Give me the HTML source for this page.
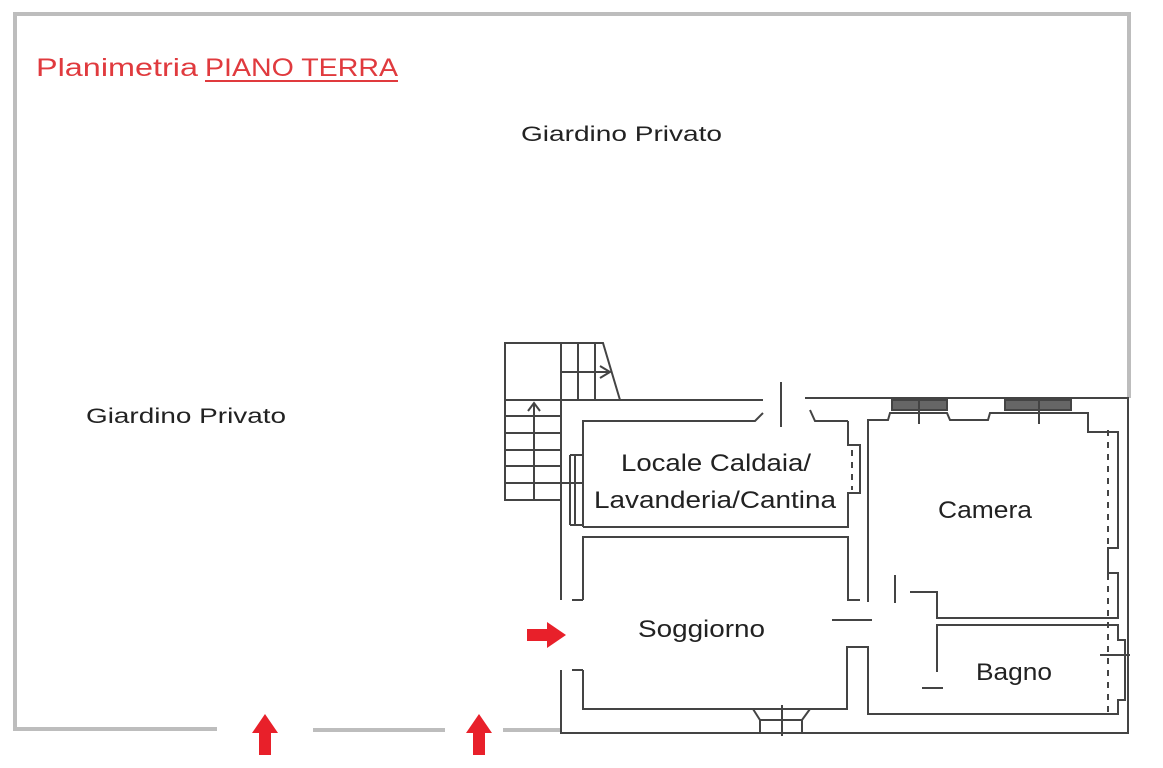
<!DOCTYPE html>
<html><head><meta charset="utf-8"><style>
html,body{margin:0;padding:0;background:#fff;}
svg{display:block;}
text{font-family:"Liberation Sans",sans-serif;}
</style></head><body>
<svg width="1163" height="768" viewBox="0 0 1163 768" xmlns="http://www.w3.org/2000/svg">
<g stroke="#bdbdbd" stroke-width="4" fill="none">
<polyline points="1129,398 1129,14 15,14 15,729 217,729"/>
<line x1="313" y1="730" x2="445" y2="730"/>
<line x1="503" y1="730" x2="560" y2="730"/>
</g>
<text x="36" y="76" font-size="25" fill="#e03a3e" textLength="162" lengthAdjust="spacingAndGlyphs">Planimetria</text>
<text x="205" y="76" font-size="25" fill="#e03a3e" textLength="193" lengthAdjust="spacingAndGlyphs">PIANO TERRA</text>
<line x1="205" y1="81" x2="398" y2="81" stroke="#e03a3e" stroke-width="2"/>
<text x="521" y="141" font-size="21" fill="#222" textLength="201" lengthAdjust="spacingAndGlyphs">Giardino Privato</text>
<text x="86" y="423" font-size="21" fill="#222" textLength="200" lengthAdjust="spacingAndGlyphs">Giardino Privato</text>

<g stroke="#444" stroke-width="2" fill="none">
<rect x="505" y="343" width="56" height="157"/>
<polyline points="561,343 603,343 620,400"/>
<line x1="578" y1="343" x2="578" y2="400"/>
<line x1="595" y1="343" x2="595" y2="400"/>
<line x1="561" y1="372" x2="610" y2="372"/>
<polyline points="600,366 610,372 600,378"/>
<line x1="505" y1="400" x2="561" y2="400"/>
<line x1="505" y1="416" x2="561" y2="416"/>
<line x1="505" y1="433" x2="561" y2="433"/>
<line x1="505" y1="450" x2="561" y2="450"/>
<line x1="505" y1="466" x2="561" y2="466"/>
<line x1="505" y1="483" x2="583" y2="483"/>
<line x1="534" y1="403" x2="534" y2="500"/>
<polyline points="528,411 534,403 540,411"/>
<polyline points="763,400 561,400 561,600"/>
<polyline points="561,670 561,733 1128,733 1128,398 805,398"/>
<polyline points="583,527 583,421 755,421 763,413"/>
<polyline points="810,410 815,421 848,421"/>
<polyline points="583,527 848,527 848,493 860,493 860,445 848,445 848,421"/>
<line x1="570" y1="455" x2="583" y2="455"/><line x1="570" y1="525" x2="583" y2="525"/>
<line x1="570" y1="455" x2="570" y2="525"/><line x1="575" y1="455" x2="575" y2="525"/>
<line x1="561" y1="483" x2="583" y2="483"/>
<polyline points="583,600 583,537 848,537 848,600 860,600"/>
<polyline points="583,670 583,709 847,709 847,647 868,647 868,714 1110,714"/>
<line x1="572" y1="600" x2="583" y2="600"/><line x1="572" y1="670" x2="583" y2="670"/>
<polyline points="868,602 868,420 888,420 890,413 947,413 950,420 988,420 990,413 1072,413 1088,413 1088,432 1118,432 1118,548 1108,548 1108,573 1118,573 1118,618 937,618 937,592 910,592"/>
<polyline points="937,672 937,625 1118,625 1118,640 1125,640 1125,700 1118,700 1118,714 1110,714"/>
<rect x="892" y="400" width="55" height="10" fill="#666"/>
<rect x="1005" y="400" width="66" height="10" fill="#666"/>
<line x1="919" y1="398" x2="919" y2="424"/>
<line x1="1039" y1="398" x2="1039" y2="424"/>
<polyline points="753,709 760,720 802,720 810,709"/>
<line x1="760" y1="733" x2="760" y2="720"/><line x1="802" y1="733" x2="802" y2="720"/>
<line x1="782" y1="705" x2="782" y2="736"/>
<line x1="1108" y1="430" x2="1108" y2="718" stroke-dasharray="6,6"/>
<line x1="852" y1="450" x2="852" y2="490" stroke-dasharray="6,6"/>
<line x1="1100" y1="655" x2="1130" y2="655"/>
<line x1="781" y1="382" x2="781" y2="427"/>
<line x1="895" y1="575" x2="895" y2="603"/>
<line x1="832" y1="620" x2="872" y2="620"/>
<line x1="922" y1="688" x2="943" y2="688"/>
</g>
<text x="621" y="471" font-size="24" fill="#222" textLength="190" lengthAdjust="spacingAndGlyphs">Locale Caldaia/</text>
<text x="594" y="508" font-size="24" fill="#222" textLength="242" lengthAdjust="spacingAndGlyphs">Lavanderia/Cantina</text>
<text x="938" y="518" font-size="24" fill="#222" textLength="94" lengthAdjust="spacingAndGlyphs">Camera</text>
<text x="638" y="637" font-size="24" fill="#222" textLength="127" lengthAdjust="spacingAndGlyphs">Soggiorno</text>
<text x="976" y="680" font-size="24" fill="#222" textLength="76" lengthAdjust="spacingAndGlyphs">Bagno</text>
<g fill="#e8202a">
<polygon points="527,629 547,629 547,622 566,635 547,648 547,641 527,641"/>
<polygon points="265,714 278,733 271,733 271,755 259,755 259,733 252,733"/>
<polygon points="479,714 492,733 485,733 485,755 473,755 473,733 466,733"/>
</g>
</svg>
</body></html>
